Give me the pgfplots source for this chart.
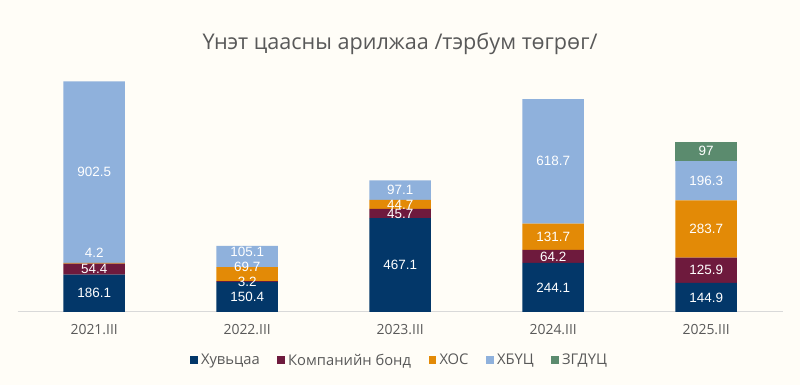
\documentclass[border=0pt]{standalone}
\usepackage{pgfplots}
\pgfplotsset{compat=1.18}
\usepackage{pgfplotstable}
\usepackage{fontspec}
\setmainfont{Open Sans}
\newfontfamily\numfont{Liberation Sans}
\definecolor{bg}{HTML}{FFFDF7}
\definecolor{cnavy}{HTML}{033769}
\definecolor{cmaroon}{HTML}{6E1A3D}
\definecolor{corange}{HTML}{E38A06}
\definecolor{cblue}{HTML}{8FB1DC}
\definecolor{cgreen}{HTML}{5B8B6E}
\definecolor{tgray}{HTML}{595959}
\definecolor{lgray}{HTML}{D9D9D9}

% value columns v1..v5; label columns m1..m5 = value:label offset (bp)
\pgfplotstableread{
x  v1    v2    v3    v4    v5  m1      m2      m3      m4      m5
0  186.1 54.4  4.2   902.5 0   186.1:0 54.4:0  4.2:10  902.5:0 0:0
1  150.4 3.2   69.7  105.1 0   150.4:0 3.2:0   69.7:7  105.1:5 0:0
2  467.1 45.7  44.7  97.1  0   467.1:0 45.7:0  44.7:0  97.1:0  0:0
3  244.1 64.2  131.7 618.7 0   244.1:0 64.2:0  131.7:0 618.7:0 0:0
4  144.9 125.9 283.7 196.3 97  144.9:0 125.9:0 283.7:0 196.3:0 97:0
}\datatable

\def\splitmeta#1:#2\relax{\def\lbl{#1}\def\dy{#2}}

\pgfplotsset{
  sqlegend/.style={legend image code/.code={\fill[##1] (0bp,-3.8bp) rectangle (7.5bp,3.8bp);}},
  seg/.style={
    fill=#1, draw=none, sqlegend,
    point meta=explicit symbolic,
    nodes near coords={\expandafter\splitmeta\pgfplotspointmeta\relax\ifdim\lbl pt=0pt \else\lbl\fi},
    every node near coord/.append style={
      /utils/exec={\expandafter\splitmeta\pgfplotspointmeta\relax},
      anchor=center, text=white,
      font=\numfont\fontsize{13.5}{14}\selectfont,
      yshift={\dy bp}},
  },
}

\begin{document}
\begin{tikzpicture}
\fill[bg] (0,0) rectangle (800bp,385bp);
\node[text=tgray, font=\fontsize{21.7}{24}\selectfont] at (400bp,341bp) {Үнэт цаасны арилжаа /тэрбум төгрөг/};
\begin{axis}[
  at={(17.7bp,73bp)}, anchor=south west,
  scale only axis, width=765bp, height=241.32bp,
  xmin=-0.5, xmax=4.5, ymin=0, ymax=1200,
  ybar stacked, bar width=61.5bp,
  axis x line*=bottom, axis y line=none,
  x axis line style={draw=lgray, line width=1bp, -},
  xtick=data, xticklabels={2021.III,2022.III,2023.III,2024.III,2025.III},
  major tick length=0pt,
  xticklabel style={text=tgray, font=\fontsize{14}{15}\selectfont, yshift=-9bp},
  ytick=\empty,
  clip=false,
  legend style={at={(0.5,-0.2)}, anchor=center, draw=none, fill=none,
    legend columns=5, font=\fontsize{14.8}{15}\selectfont, text=tgray,
    /tikz/every even column/.append style={column sep=14bp},
    nodes={inner xsep=3.5bp}},
  legend cell align=left,
]
\addplot[seg=cnavy] table[x=x, y=v1, meta=m1] {\datatable};
\addlegendentry{Хувьцаа}
\addplot[seg=cmaroon] table[x=x, y=v2, meta=m2] {\datatable};
\addlegendentry{Компанийн бонд}
\addplot[seg=corange] table[x=x, y=v3, meta=m3] {\datatable};
\addlegendentry{ХОС}
\addplot[seg=cblue] table[x=x, y=v4, meta=m4] {\datatable};
\addlegendentry{ХБҮЦ}
\addplot[seg=cgreen] table[x=x, y=v5, meta=m5] {\datatable};
\addlegendentry{ЗГДҮЦ}
\end{axis}
\end{tikzpicture}
\end{document}
